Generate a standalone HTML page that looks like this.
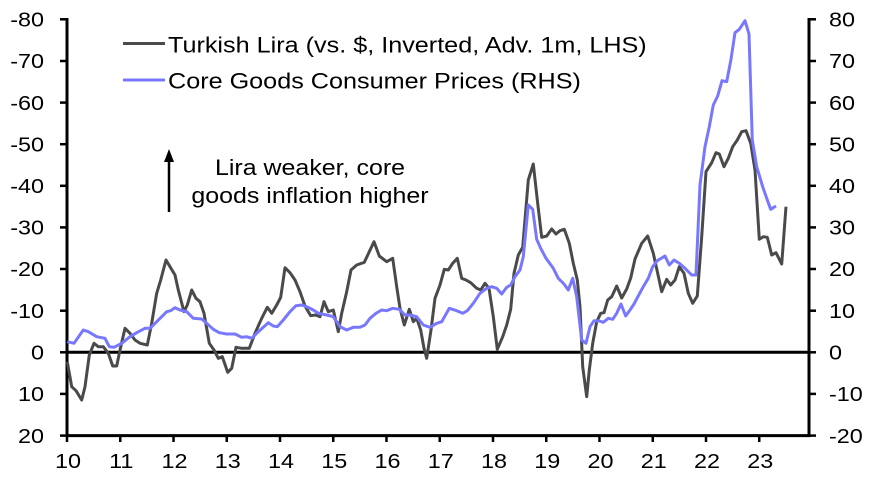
<!DOCTYPE html>
<html>
<head>
<meta charset="utf-8">
<style>
html,body{margin:0;padding:0;background:#fff;}
svg{display:block;}
text{font-family:"Liberation Sans",Arial,sans-serif;fill:#000;}
</style>
</head>
<body>
<svg width="884" height="478" viewBox="0 0 884 478" xmlns="http://www.w3.org/2000/svg">
<!-- axes -->
<g stroke="#000" stroke-width="3" fill="none">
  <line x1="67" y1="18" x2="67" y2="437"/>
  <line x1="809" y1="18" x2="809" y2="437"/>
  <line x1="65.5" y1="435.6" x2="810.5" y2="435.6"/>
  <line x1="67" y1="352.3" x2="809" y2="352.3"/>
</g>
<g stroke="#000" stroke-width="2.5">
  <!-- left ticks -->
  <line x1="60" y1="19.3" x2="67" y2="19.3"/>
  <line x1="60" y1="61" x2="67" y2="61"/>
  <line x1="60" y1="102.6" x2="67" y2="102.6"/>
  <line x1="60" y1="144.2" x2="67" y2="144.2"/>
  <line x1="60" y1="185.8" x2="67" y2="185.8"/>
  <line x1="60" y1="227.4" x2="67" y2="227.4"/>
  <line x1="60" y1="269" x2="67" y2="269"/>
  <line x1="60" y1="310.7" x2="67" y2="310.7"/>
  <line x1="60" y1="352.3" x2="67" y2="352.3"/>
  <line x1="60" y1="393.9" x2="67" y2="393.9"/>
  <line x1="60" y1="435.6" x2="67" y2="435.6"/>
  <!-- right ticks -->
  <line x1="809" y1="19.3" x2="816" y2="19.3"/>
  <line x1="809" y1="61" x2="816" y2="61"/>
  <line x1="809" y1="102.6" x2="816" y2="102.6"/>
  <line x1="809" y1="144.2" x2="816" y2="144.2"/>
  <line x1="809" y1="185.8" x2="816" y2="185.8"/>
  <line x1="809" y1="227.4" x2="816" y2="227.4"/>
  <line x1="809" y1="269" x2="816" y2="269"/>
  <line x1="809" y1="310.7" x2="816" y2="310.7"/>
  <line x1="809" y1="352.3" x2="816" y2="352.3"/>
  <line x1="809" y1="393.9" x2="816" y2="393.9"/>
  <line x1="809" y1="435.6" x2="816" y2="435.6"/>
  <!-- x ticks -->
  <line x1="67" y1="435.6" x2="67" y2="442"/>
  <line x1="120.25" y1="435.6" x2="120.25" y2="442"/>
  <line x1="173.5" y1="435.6" x2="173.5" y2="442"/>
  <line x1="226.75" y1="435.6" x2="226.75" y2="442"/>
  <line x1="280" y1="435.6" x2="280" y2="442"/>
  <line x1="333.25" y1="435.6" x2="333.25" y2="442"/>
  <line x1="386.5" y1="435.6" x2="386.5" y2="442"/>
  <line x1="439.75" y1="435.6" x2="439.75" y2="442"/>
  <line x1="493" y1="435.6" x2="493" y2="442"/>
  <line x1="546.25" y1="435.6" x2="546.25" y2="442"/>
  <line x1="599.5" y1="435.6" x2="599.5" y2="442"/>
  <line x1="652.75" y1="435.6" x2="652.75" y2="442"/>
  <line x1="706" y1="435.6" x2="706" y2="442"/>
  <line x1="759.25" y1="435.6" x2="759.25" y2="442"/>
</g>

<!-- left labels -->
<g font-size="20" text-anchor="end">
  <text transform="translate(44,26.5) scale(1.17,1)">-80</text>
  <text transform="translate(44,68.2) scale(1.17,1)">-70</text>
  <text transform="translate(44,109.8) scale(1.17,1)">-60</text>
  <text transform="translate(44,151.4) scale(1.17,1)">-50</text>
  <text transform="translate(44,193) scale(1.17,1)">-40</text>
  <text transform="translate(44,234.6) scale(1.17,1)">-30</text>
  <text transform="translate(44,276.2) scale(1.17,1)">-20</text>
  <text transform="translate(44,317.9) scale(1.17,1)">-10</text>
  <text transform="translate(44,359.5) scale(1.17,1)">0</text>
  <text transform="translate(44,401.1) scale(1.17,1)">10</text>
  <text transform="translate(44,442.8) scale(1.17,1)">20</text>
</g>
<!-- right labels -->
<g font-size="20" text-anchor="start">
  <text transform="translate(829,26.5) scale(1.17,1)">80</text>
  <text transform="translate(829,68.2) scale(1.17,1)">70</text>
  <text transform="translate(829,109.8) scale(1.17,1)">60</text>
  <text transform="translate(829,151.4) scale(1.17,1)">50</text>
  <text transform="translate(829,193) scale(1.17,1)">40</text>
  <text transform="translate(829,234.6) scale(1.17,1)">30</text>
  <text transform="translate(829,276.2) scale(1.17,1)">20</text>
  <text transform="translate(829,317.9) scale(1.17,1)">10</text>
  <text transform="translate(829,359.5) scale(1.17,1)">0</text>
  <text transform="translate(829,401.1) scale(1.17,1)">-10</text>
  <text transform="translate(829,442.8) scale(1.17,1)">-20</text>
</g>
<!-- x labels -->
<g font-size="20" text-anchor="middle">
  <text transform="translate(68,468) scale(1.17,1)">10</text>
  <text transform="translate(121.25,468) scale(1.17,1)">11</text>
  <text transform="translate(174.5,468) scale(1.17,1)">12</text>
  <text transform="translate(227.75,468) scale(1.17,1)">13</text>
  <text transform="translate(281,468) scale(1.17,1)">14</text>
  <text transform="translate(334.25,468) scale(1.17,1)">15</text>
  <text transform="translate(387.5,468) scale(1.17,1)">16</text>
  <text transform="translate(440.75,468) scale(1.17,1)">17</text>
  <text transform="translate(494,468) scale(1.17,1)">18</text>
  <text transform="translate(547.25,468) scale(1.17,1)">19</text>
  <text transform="translate(600.5,468) scale(1.17,1)">20</text>
  <text transform="translate(653.75,468) scale(1.17,1)">21</text>
  <text transform="translate(707,468) scale(1.17,1)">22</text>
  <text transform="translate(760.25,468) scale(1.17,1)">23</text>
</g>

<!-- series -->
<polyline fill="none" stroke="#4a4a4a" stroke-width="3" stroke-linejoin="round" points="67.3,361.7 71.7,386.7 76,390.7 81.7,400 85,386.7 89.3,355 94,343.3 98.3,346.7 103.3,346.7 108.3,353.3 112.7,366 116.7,366 120,350 125,328.3 130,333.3 135,340 140,343.3 147.3,345 151.7,323.3 156.7,293.3 160.7,280 166,260 170,266.7 175,275 178.3,290 184,311.7 187.3,305 191.7,290 196,298.3 200,301.7 204,313.3 209.3,343.3 214,350 218.3,358.3 222.3,356.7 227.7,372.3 231.7,368.3 236,347.3 241.7,348.3 249.3,348.3 255,333.3 261.7,318.3 267.3,307.3 271.7,313.3 276.7,305 280.7,297.3 285,267.7 290,272.7 295,280 300,291.7 305,306 310.7,315.7 315.7,315 320,316.7 324,301.7 328.3,311.7 333.3,310 338.3,331.7 341.7,313.3 346.7,291.7 351,270 356.7,265 364.3,262.3 369.3,251.7 374,241.7 379.3,256 386.7,261.7 392.7,258.3 396.7,286.7 400,308.3 404.3,325 409.3,309.3 413.3,321.7 416.7,318.3 420.7,330 424,348.3 426.7,358.3 431,330 435,298.3 440,285 444.3,269.3 448.3,270 452.7,263.3 457.3,258.3 461.7,278.3 466,280 470.7,282.7 476.7,288.3 480.7,290 485,283.3 489,288.3 493.3,316.7 497.3,349.3 502.7,336.7 506.7,325 510.7,309.3 514,273.3 518.3,255 522.7,247.3 528.3,180 533.3,164 537.3,200 541.7,237.3 546.7,236 551.7,229 556,234 560,230.7 564.3,229.3 569.3,243.3 573.3,263.3 577.3,280 580,306.7 582.7,366.7 586.7,396.7 589.3,370 592.7,343.3 596.7,321.7 600.7,313.3 604,312.7 607.7,300 611.7,296.7 616.7,286 621.7,298 626.7,289 630.7,278 635,259 641.7,243.3 647.7,236 653.3,253.3 657.7,273.3 661.7,291.7 666.7,279.3 670.7,285 675,280 679.3,266.7 684,273.3 688.3,293.3 692.7,303.3 697.3,296 701.7,236.7 706,171.7 711.7,162.7 716,152.7 719.3,154 724,166.7 728.3,158.3 732.7,146.7 737.3,140 741.7,131.7 746,130.7 750.7,143.3 755,170 759.3,239.3 763.3,236.7 767.3,237.3 771.7,255 776,252.7 781.7,264 786,206.7"/>
<polyline fill="none" stroke="#7878ff" stroke-width="3" stroke-linejoin="round" points="67.3,341.7 74,343.3 83.3,330 88.3,331.7 96.7,336.7 105,338.3 109.3,346.7 114,347.3 121.7,343.3 130,336.7 136.7,332.7 145,328.3 150,328.3 156.7,321.7 166.7,311.7 170.7,310.7 175,307.7 180,310 186.7,311.7 193.3,318.3 201.7,319 206.7,323.3 213.3,329.3 219.3,332.7 226.7,334 235,334 241.7,337.3 246.7,336.7 251.7,338.3 258.3,331.7 268.3,322.7 273.3,326 277.3,326.7 283.3,320 290,311.7 296,305.7 301.7,305 306.7,306.7 313.3,310 318.3,313.3 326.7,315 333.3,316.7 340,326.7 346.7,330 353.3,327.3 360,327.3 365,325 370,318.3 376,313.3 381.7,310 386.7,310.7 392.7,308.3 399.3,309.3 405,315 410,315 416.7,316.7 423.3,325 430,327.3 436.7,323.3 441.7,321.7 449.3,308.3 456.7,310.7 462.7,313.3 467.3,310.7 473.3,303.3 480,293.3 486.7,288.3 491.7,286.7 496.7,288.3 501.7,294 506.7,287.3 510.7,285 515,276.7 520,270 523.3,256.7 528.3,205 532.7,209.3 536.7,239.3 540.7,248.3 546,258.3 553.3,268.3 558.3,278.3 564,284 568.3,290 572.7,278.3 576.7,296.7 581.7,340 586,343.3 590,326.7 594,320.7 599.3,321 603.3,322.3 608.3,318.3 612.7,319.3 616.7,313.3 621,304 625.7,316 630,310 634,304 640,292.7 643.3,286.7 648.3,278.3 652.7,266.7 657.3,260.7 665,256 669.3,265 674,260 679.3,263.3 685,268.3 691.7,275 696,275 700,185 705,146.7 709.3,126.7 713.3,105 717.7,96 722,80.7 726.7,81.7 731,59.3 735,32.7 739.3,29.3 745,20.7 749,34 752.3,140 756.7,166.7 762.7,186.7 766.7,198.3 770.7,209.3 776,206"/>

<!-- legend -->
<line x1="123" y1="43.5" x2="165" y2="43.5" stroke="#4a4a4a" stroke-width="3"/>
<line x1="123" y1="80" x2="165" y2="80" stroke="#7878ff" stroke-width="3"/>
<g font-size="22.5">
  <text transform="translate(168,52.3) scale(1.12,1)">Turkish Lira (vs. $, Inverted, Adv. 1m, LHS)</text>
  <text transform="translate(168,88.3) scale(1.12,1)">Core Goods Consumer Prices (RHS)</text>
</g>

<!-- annotation -->
<g font-size="22.5" text-anchor="middle">
  <text transform="translate(310,175) scale(1.11,1)">Lira weaker, core</text>
  <text transform="translate(310,203) scale(1.11,1)">goods inflation higher</text>
</g>
<line x1="169" y1="212" x2="169" y2="158" stroke="#000" stroke-width="2.5"/>
<polygon points="169,149 164,162 174,162" fill="#000"/>
</svg>
</body>
</html>
